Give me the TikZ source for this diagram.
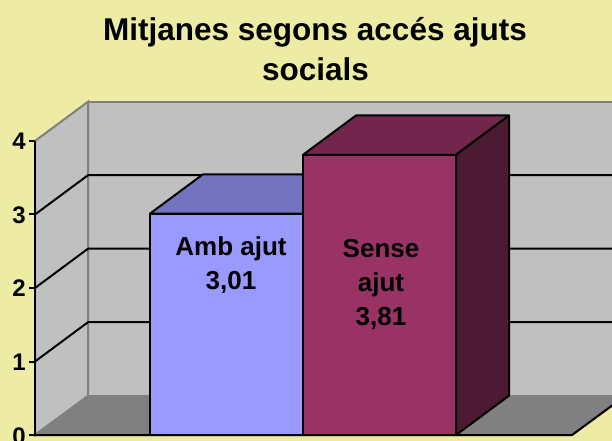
\documentclass[tikz,border=0pt]{standalone}
\usepackage{fontspec}
\setmainfont{Liberation Sans}
\definecolor{bg}{RGB}{238,236,164}
\definecolor{wall}{RGB}{192,192,192}
\definecolor{floorc}{RGB}{128,128,128}
\definecolor{edgegray}{RGB}{128,128,128}
\definecolor{bluefront}{RGB}{153,153,255}
\definecolor{bluetop}{RGB}{115,115,191}
\definecolor{redfront}{RGB}{153,51,102}
\definecolor{redtop}{RGB}{115,38,77}
\definecolor{redside}{RGB}{77,26,51}
\tikzset{
  blk/.style={black, line width=2bp},
  grayedge/.style={draw=edgegray, line width=2bp},
  barface/.style={draw=black, line width=2bp, line join=round},
  titlelbl/.style={font=\fontsize{31.5bp}{36bp}\selectfont\bfseries, anchor=base, inner sep=0},
  axislbl/.style={font=\fontsize{24bp}{26bp}\selectfont\bfseries, anchor=base east, inner sep=0},
  barlbl/.style={font=\fontsize{26bp}{28bp}\selectfont\bfseries, anchor=base, inner sep=0}
}
\begin{document}
\begin{tikzpicture}[x=1bp,y=-1bp]
\useasboundingbox (0,0) rectangle (612,441);
\fill[bg] (0,0) rectangle (612,441);
\begin{scope}
\clip (0,0) rectangle (612,441);
% back wall
\filldraw[fill=wall, grayedge] (88,396) -- (88,101.7) -- (660,101.7) -- (660,396);
% left wall
\filldraw[fill=wall, grayedge] (35,435) -- (35,141) -- (88,101.7) -- (88,396) -- cycle;
% floor
\filldraw[fill=floorc, grayedge] (35,435) -- (88,396) -- (625,396) -- (572,435) -- cycle;
% gridlines
\foreach \yy in {361.5,288,214.5}{
  \draw[blk] (35,\yy) -- (88,\yy-39.3) -- (660,\yy-39.3);
}
% axis and floor front edges
\draw[blk] (35,141) -- (35,436);
\draw[blk, line join=round] (34,435) -- (572,435) -- (625,396);
\foreach \yy in {141,214.5,288,361.5,435}{
  \draw[blk] (29,\yy) -- (35,\yy);
}
% blue bar
\filldraw[fill=bluefront, barface] (150,435) rectangle (303,213.6);
\filldraw[fill=bluetop, barface] (150,213.6) -- (203,174.3) -- (356,174.3) -- (303,213.6) -- cycle;
% red bar
\filldraw[fill=redfront, barface] (303,435) rectangle (456,154.8);
\filldraw[fill=redtop, barface] (303,154.8) -- (356,115.5) -- (509,115.5) -- (456,154.8) -- cycle;
\filldraw[fill=redside, barface] (456,435) -- (509,395.7) -- (509,115.5) -- (456,154.8) -- cycle;
\end{scope}
% title
\node[titlelbl] (t1) at (315,41) {Mitjanes segons accés ajuts};
\node[titlelbl] (t2) at (315.5,81) {socials};
% axis labels
\node[axislbl] (a4) at (26,150) {4};
\node[axislbl] (a3) at (26,223.5) {3};
\node[axislbl] (a2) at (26,297) {2};
\node[axislbl] (a1) at (26,370.5) {1};
\node[axislbl] (a0) at (26,444) {0};
% bar labels
\node[barlbl] (b1) at (231,256) {Amb ajut};
\node[barlbl] (b2) at (231,290) {3,01};
\node[barlbl] (r1) at (381,257.7) {Sense};
\node[barlbl] (r2) at (381,291.5) {ajut};
\node[barlbl] (r3) at (381,325) {3,81};
\end{tikzpicture}
\end{document}
